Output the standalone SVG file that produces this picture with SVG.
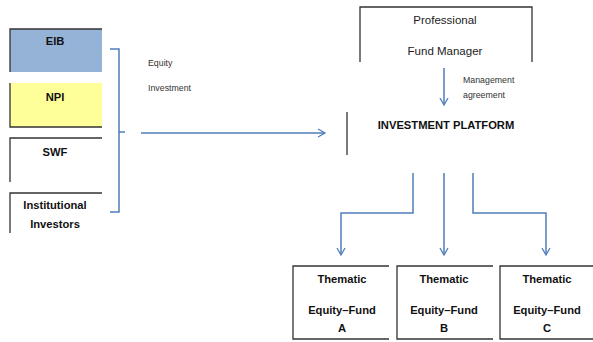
<svg xmlns="http://www.w3.org/2000/svg" width="593" height="342" viewBox="0 0 593 342">
<defs>
<style>
.b{fill:none;stroke:#333;stroke-width:1.3}
.t{font-family:"Liberation Sans",Arial,sans-serif;font-weight:bold;font-size:11.2px;fill:#111;text-anchor:middle}
.n{font-family:"Liberation Sans",Arial,sans-serif;font-size:11.5px;fill:#222;text-anchor:middle}
.s{font-family:"Liberation Sans",Arial,sans-serif;font-size:8.8px;fill:#333}
.c{fill:none;stroke:#4F7DBA;stroke-width:1.5}
</style>
<marker id="ah" markerWidth="10" markerHeight="10" refX="8" refY="5" orient="auto" markerUnits="userSpaceOnUse">
<path d="M1,1 L8,5 L1,9" fill="none" stroke="#4F7DBA" stroke-width="1.3"/>
</marker>
</defs>
<rect width="593" height="342" fill="#fff"/>
<g id="eib">
<rect x="10" y="29" width="92" height="43" fill="#95B3D7"/>
<path class="b" d="M102,29 H10 V72"/>
<text class="t" x="55" y="45">EIB</text>
</g>
<g id="npi">
<rect x="10" y="83" width="92" height="44" fill="#FFFF99"/>
<path class="b" d="M10,83 V127 H102"/>
<text class="t" x="55" y="101">NPI</text>
</g>
<g id="swf">
<path class="b" d="M102,138 H10 V182"/>
<text class="t" x="55" y="156">SWF</text>
</g>
<g id="inst">
<path class="b" d="M102,193 H10 V233"/>
<text class="t" x="55" y="209">Institutional</text>
<text class="t" x="55" y="228">Investors</text>
</g>
<g id="equity-label">
<text class="s" x="148" y="66">Equity</text>
<text class="s" x="148" y="91">Investment</text>
</g>
<g id="manager">
<path class="b" d="M360,62 V7 H532 V62"/>
<text class="n" x="445" y="24">Professional</text>
<text class="n" x="445" y="55">Fund Manager</text>
</g>
<g id="mgmt-label">
<text class="s" x="463" y="83">Management</text>
<text class="s" x="463" y="98">agreement</text>
</g>
<g id="platform">
<path class="b" d="M347,112 V155"/>
<text class="t" x="446" y="129">INVESTMENT PLATFORM</text>
</g>
<g id="fund-a">
<path class="b" d="M389,266 H293 V339 H389"/>
<text class="t" x="342" y="283">Thematic</text>
<text class="t" x="342" y="314">Equity–Fund</text>
<text class="t" x="342" y="332">A</text>
</g>
<g id="fund-b">
<path class="b" d="M493,266 H397 V339 H493"/>
<text class="t" x="444" y="283">Thematic</text>
<text class="t" x="444" y="314">Equity–Fund</text>
<text class="t" x="444" y="332">B</text>
</g>
<g id="fund-c">
<path class="b" d="M593,266 H500 V339 H593"/>
<text class="t" x="547" y="283">Thematic</text>
<text class="t" x="547" y="314">Equity–Fund</text>
<text class="t" x="547" y="332">C</text>
</g>
<g id="connectors">
<path class="c" d="M110,49 H119 V212 H110 M119,132 H125"/>
<path class="c" d="M141,133 H325" marker-end="url(#ah)"/>
<path class="c" d="M444,68 V105" marker-end="url(#ah)"/>
<path class="c" d="M413,173 V213 H341 V255" marker-end="url(#ah)"/>
<path class="c" d="M444,173 V255" marker-end="url(#ah)"/>
<path class="c" d="M473,173 V213 H546 V255" marker-end="url(#ah)"/>
</g>
</svg>
